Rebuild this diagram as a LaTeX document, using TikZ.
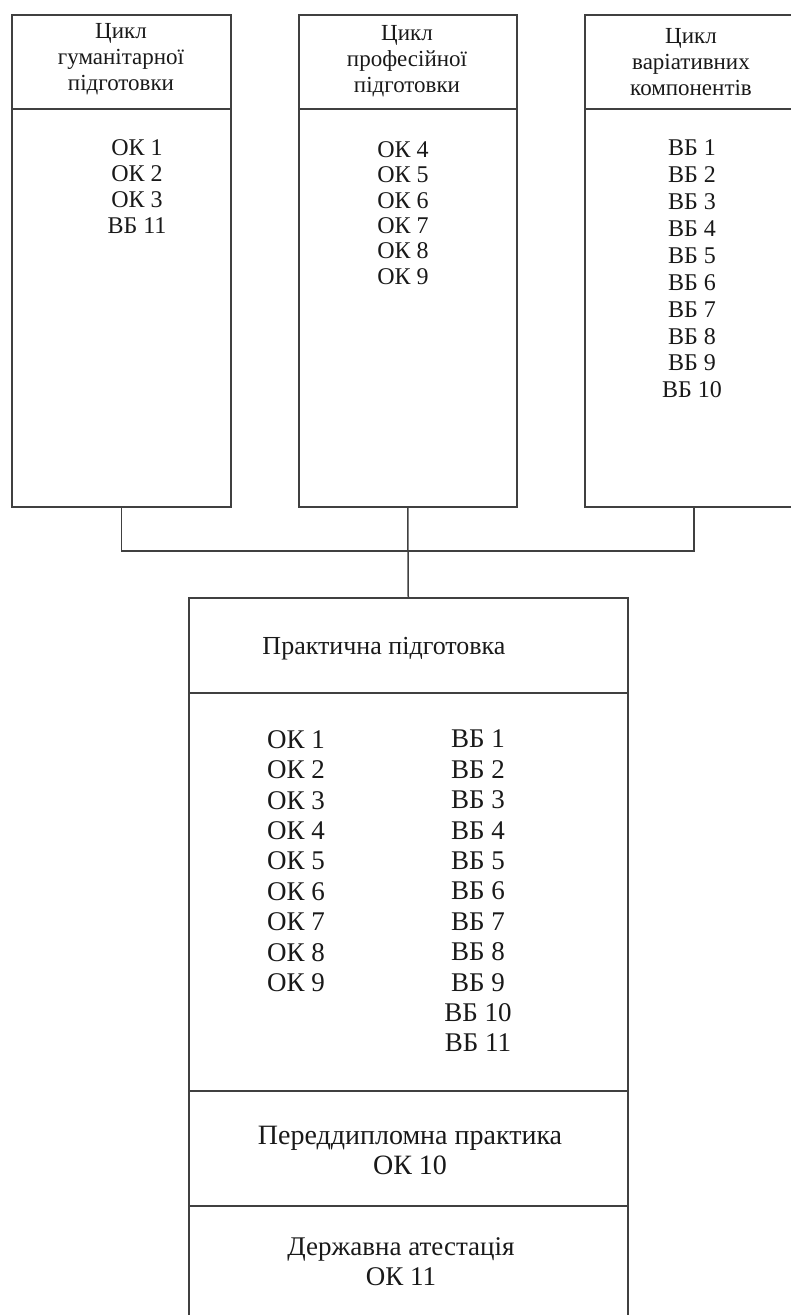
\documentclass[tikz,border=0pt]{standalone}
\usepackage{fontspec}
\setmainfont{Liberation Serif}
\begin{document}
\begin{tikzpicture}[x=1pt,y=-1pt,
  cell/.style={draw=black!75, line width=1.5pt, rectangle, inner sep=0pt, anchor=north west},
  link/.style={draw=black!75, line width=1.5pt},
  headtxt/.style={font=\fontsize{23}{26}\selectfont, align=center, inner sep=0pt, text=black!90},
  listtxt/.style={font=\fontsize{24}{26}\selectfont, align=center, inner sep=0pt, text=black!90},
  bigtxt/.style={font=\fontsize{27}{30.4}\selectfont, align=center, inner sep=0pt, text=black!90}
]
\useasboundingbox (0,0) rectangle (791,1315);
\clip (0,0) rectangle (791,1315);
% top boxes
\node[cell, minimum width=219, minimum height=94] (h1) at (11,14) {};
\node[cell, minimum width=219, minimum height=398] (c1) at (11,108) {};
\node[cell, minimum width=218, minimum height=94] (h2) at (298,14) {};
\node[cell, minimum width=218, minimum height=398] (c2) at (298,108) {};
\node[cell, minimum width=218, minimum height=94] (h3) at (584,14) {};
\node[cell, minimum width=218, minimum height=398] (c3) at (584,108) {};
% bottom box
\node[cell, minimum width=439, minimum height=95] (p1) at (188,597) {};
\node[cell, minimum width=439, minimum height=398] (p2) at (188,692) {};
\node[cell, minimum width=439, minimum height=115] (p3) at (188,1090) {};
\node[cell, minimum width=439, minimum height=140] (p4) at (188,1205) {};
% connectors
\coordinate (j) at (407,551);
\draw[link] (c1.south) |- (j) -| (c3.south);
\draw[link] (c2.south) -- (p1.north);
% header texts
\node[headtxt] (t1) at (121,59) {Цикл\\гуманітарної\\підготовки};
\node[headtxt] (t2) at (407,61) {Цикл\\професійної\\підготовки};
\node[headtxt] (t3) at (691,62) {Цикл\\варіативних\\компонентів};
% lists
\node[listtxt] (l1) at (137,186.5) {ОК 1\\ОК 2\\ОК 3\\ВБ 11};
\node[listtxt, font=\fontsize{24}{25.4}\selectfont] (l2) at (403,213) {ОК 4\\ОК 5\\ОК 6\\ОК 7\\ОК 8\\ОК 9};
\node[listtxt, font=\fontsize{24}{26.9}\selectfont] (l3) at (692,269) {ВБ 1\\ВБ 2\\ВБ 3\\ВБ 4\\ВБ 5\\ВБ 6\\ВБ 7\\ВБ 8\\ВБ 9\\ВБ 10};
% practical
\node[font=\fontsize{26}{30}\selectfont, inner sep=0pt, text=black!90] (pt) at (384,649) {Практична підготовка};
\node[bigtxt, align=left, anchor=west] (ok) at (267,861) {ОК 1\\ОК 2\\ОК 3\\ОК 4\\ОК 5\\ОК 6\\ОК 7\\ОК 8\\ОК 9};
\node[bigtxt] (vb) at (478,891) {ВБ 1\\ВБ 2\\ВБ 3\\ВБ 4\\ВБ 5\\ВБ 6\\ВБ 7\\ВБ 8\\ВБ 9\\ВБ 10\\ВБ 11};
\node[bigtxt, font=\fontsize{28}{30}\selectfont] (pd) at (410,1150) {Переддипломна практика\\ОК 10};
\node[bigtxt, font=\fontsize{27}{30}\selectfont] (da) at (401,1262) {Державна атестація\\ОК 11};
\end{tikzpicture}
\end{document}
